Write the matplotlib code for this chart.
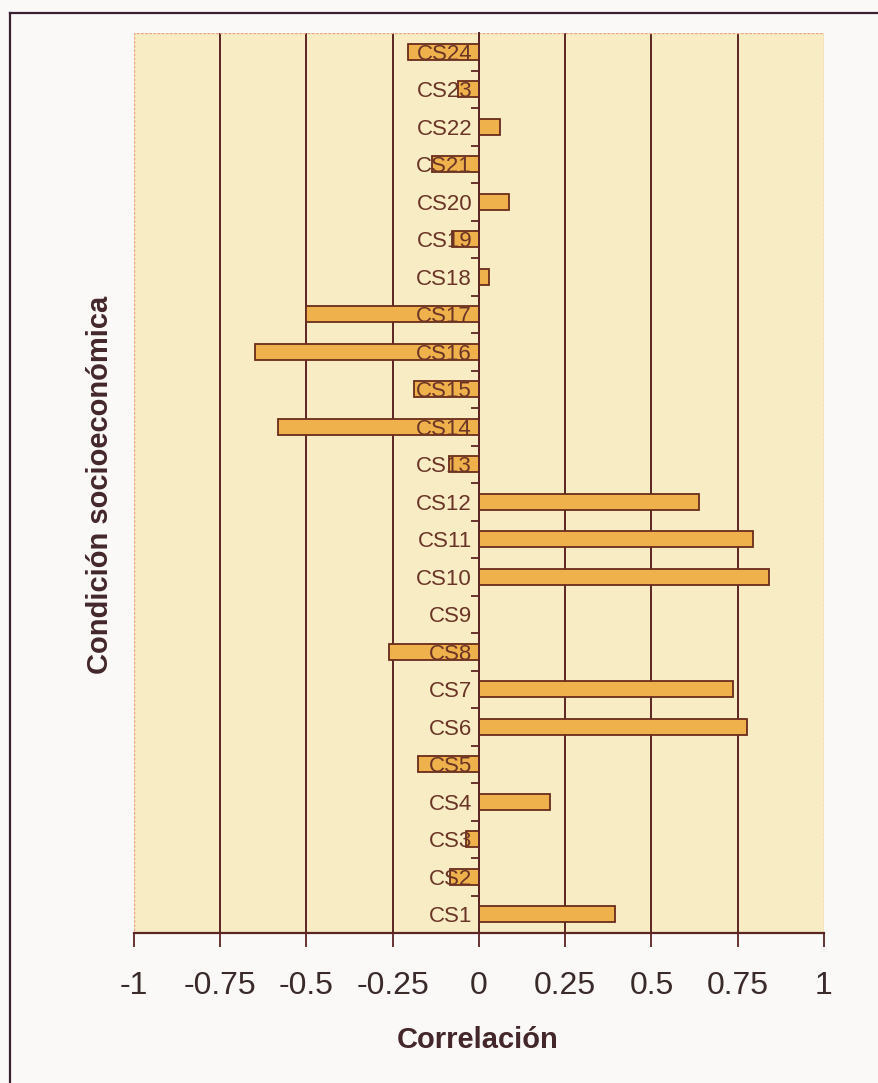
import matplotlib.pyplot as plt
from matplotlib.patches import Rectangle
from matplotlib.lines import Line2D
import numpy as np

# Correlation of each socioeconomic condition (CS1 .. CS24)
categories = ['CS%d' % i for i in range(1, 25)]
correlations = [0.395, -0.083, -0.037, 0.206, -0.177, 0.778, 0.735, -0.262,
                0.0, 0.842, 0.795, 0.637, -0.086, -0.582, -0.188, -0.65,
                -0.5, 0.03, -0.078, 0.086, -0.135, 0.06, -0.061, -0.207]
x_ticks = [-1, -0.75, -0.5, -0.25, 0, 0.25, 0.5, 0.75, 1]
x_ticklabels = ['-1', '-0.75', '-0.5', '-0.25', '0', '0.25', '0.5', '0.75', '1']

plt.rcParams['font.family'] = ['Liberation Sans', 'DejaVu Sans']

fig = plt.figure(figsize=(8.79, 10.83), dpi=100, facecolor='#faf9f7')
ax = fig.add_axes([0.1524, 0.1385, 0.785, 0.8310])
ax.set_facecolor('#f8ecc4')

pos = np.arange(len(categories))

# vertical grid lines behind the bars
for t in x_ticks[1:-1]:
    ax.axvline(t, color='#5c2424', lw=1.4, zorder=0.5)

ax.barh(pos, correlations, height=0.42, color='#efb14c',
        edgecolor='#6a2c1c', linewidth=1.3, zorder=1)

ax.set_xlim(-1, 1)
ax.set_ylim(-0.5, len(categories) - 0.5)

# the category axis sits on the zero line
for s in ['top', 'right']:
    ax.spines[s].set_visible(False)
ax.spines['left'].set_position(('data', 0))
ax.spines['left'].set_color('#5c2424')
ax.spines['left'].set_linewidth(1.4)
ax.spines['bottom'].set_color('#5c2424')
ax.spines['bottom'].set_linewidth(1.6)

ax.add_patch(Rectangle((0, 0), 1, 1, transform=ax.transAxes, fill=False,
                       ec='#eaa888', lw=1.0, ls=(0, (2, 1)), zorder=0.6))

ax.set_yticks(pos)
ax.set_yticklabels(categories)
ax.set_yticks(pos[:-1] + 0.5, minor=True)
ax.tick_params(axis='y', which='major', length=0, pad=5,
               labelsize=16, labelcolor='#6a3426')
ax.tick_params(axis='y', which='minor', length=6, width=1.3,
               color='#5c2424', direction='out')
for lbl in ax.get_yticklabels():
    lbl.set_zorder(3)

ax.set_xticks(x_ticks)
ax.set_xticklabels(x_ticklabels)
ax.tick_params(axis='x', length=10, width=1.3, color='#5c2424',
               direction='out', pad=17, labelsize=23, labelcolor='#3a2a2a')

fig.text(478 / 879, 1 - 1040 / 1083, 'Correlación', ha='center', va='center',
         fontsize=21, fontweight='bold', color='#43272a')
fig.text(100 / 879, 1 - 485 / 1083, 'Condición socioeconómica', ha='center',
         va='center', rotation=90, fontsize=21, fontweight='bold',
         color='#43272a')

# outer frame lines
fig.add_artist(Line2D([10 / 879, 1], [1 - 13 / 1083, 1 - 13 / 1083],
                      transform=fig.transFigure, color='#3a2030', lw=1.6))
fig.add_artist(Line2D([10 / 879, 10 / 879], [0, 1 - 13 / 1083],
                      transform=fig.transFigure, color='#3a2030', lw=1.6))

fig.savefig('out.png', dpi=100, facecolor=fig.get_facecolor())
